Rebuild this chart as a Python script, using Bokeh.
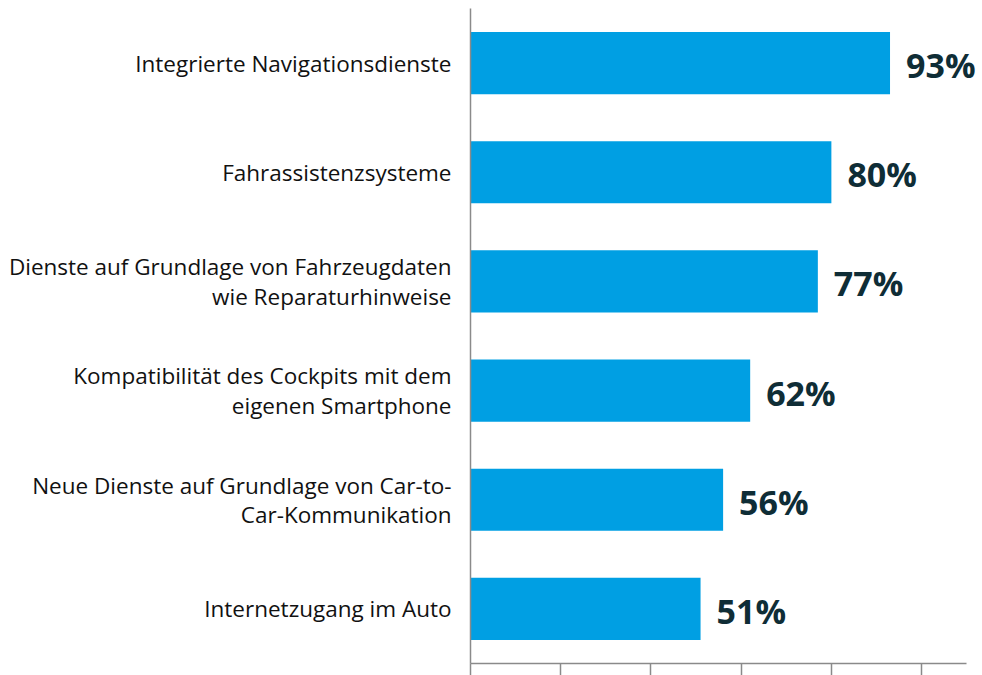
from bokeh.plotting import figure
from bokeh.models import Range1d, FactorRange, FixedTicker, ColumnDataSource
from bokeh.core.properties import value
from bokeh.embed import file_html
from bokeh.resources import INLINE

categories = [
    "Integrierte Navigationsdienste",
    "Fahrassistenzsysteme",
    "Dienste auf Grundlage von Fahrzeugdaten\nwie Reparaturhinweise",
    "Kompatibilität des Cockpits mit dem\neigenen Smartphone",
    "Neue Dienste auf Grundlage von Car-to-\nCar-Kommunikation",
    "Internetzugang im Auto",
]
values = [93, 80, 77, 62, 56, 51]
value_labels = [f"{v}%" for v in values]
x_ticks = [0, 20, 40, 60, 80, 100]

factors = list(reversed(categories))
src = ColumnDataSource(dict(cat=categories, val=values, lab=value_labels))

p = figure(
    width=982, height=675,
    y_range=FactorRange(factors=factors),
    x_range=Range1d(0, 113.5),
    output_backend="svg", toolbar_location=None,
    min_border_left=470, min_border_right=0, min_border_top=8, min_border_bottom=12,
)
p.outline_line_color = None
p.xgrid.visible = False
p.ygrid.visible = False
p.background_fill_color = "white"
p.border_fill_color = "white"

p.hbar(y="cat", right="val", left=0, height=0.57, source=src,
       fill_color="#009FE3", line_color=None)

p.text(x="val", y="cat", text="lab", source=src, x_offset=16, y_offset=2,
       text_font=value("Open Sans"), text_font_style="bold",
       text_font_size="34px", text_color="#0F2D36",
       text_align="left", text_baseline="middle")

xa = p.xaxis[0]
xa.ticker = FixedTicker(ticks=x_ticks)
xa.bounds = (0, 110)
xa.axis_line_color = "#8A8A8A"
xa.axis_line_width = 1.5
xa.major_tick_line_color = "#8A8A8A"
xa.major_tick_line_width = 1.5
xa.major_tick_in = 0
xa.major_tick_out = 12
xa.minor_tick_line_color = None
xa.major_label_overrides = {t: "" for t in x_ticks}
xa.major_label_text_font_size = "0px"
xa.major_label_standoff = 0

ya = p.yaxis[0]
ya.axis_line_color = "#8A8A8A"
ya.axis_line_width = 1.5
ya.major_tick_line_color = None
ya.minor_tick_line_color = None
ya.major_label_standoff = 13
ya.major_label_text_font = "Open Sans"
ya.major_label_text_font_size = "22.5px"
ya.major_label_text_color = "#111111"
ya.major_label_text_line_height = 0.95

open("out.html", "w").write(file_html(p, INLINE))
